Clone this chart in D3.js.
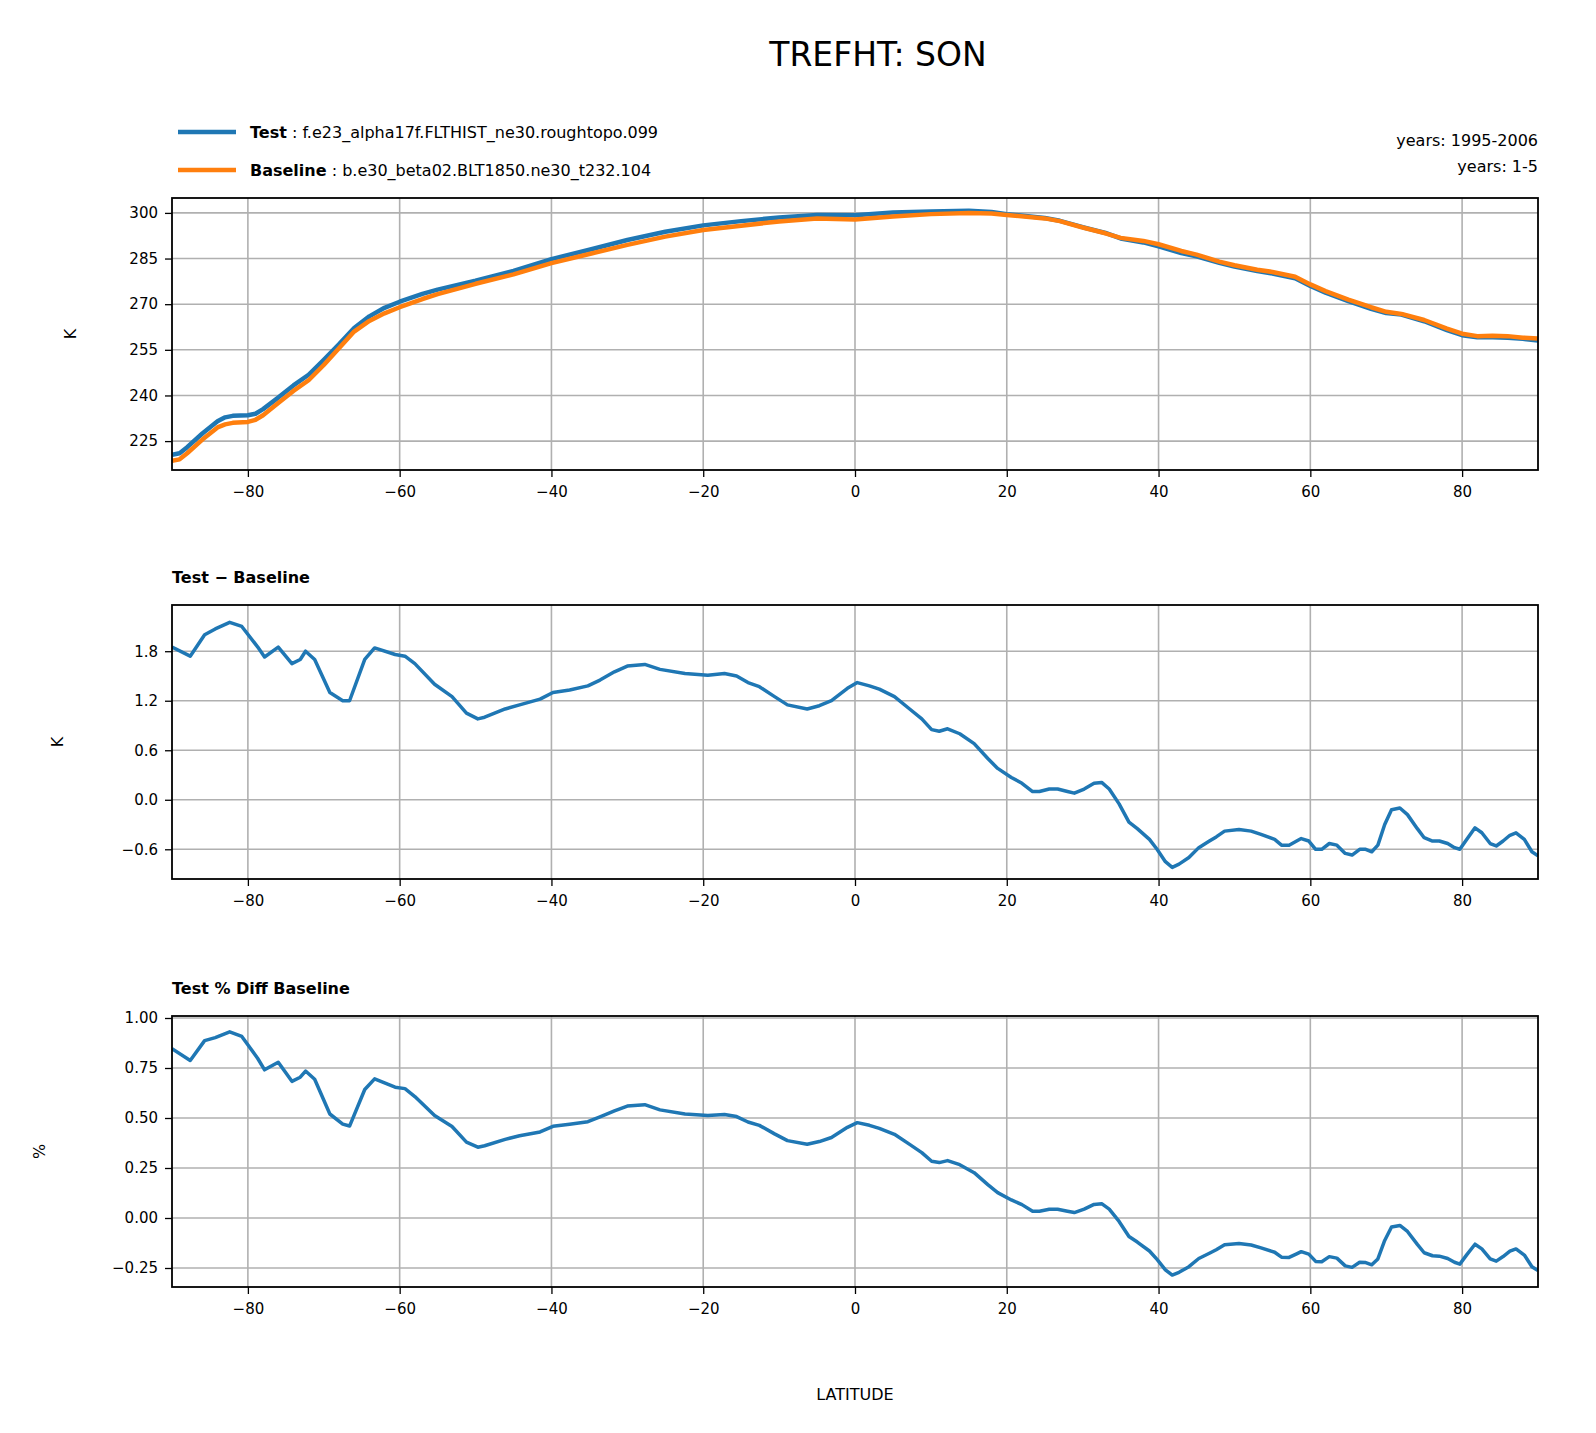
<!DOCTYPE html>
<html><head><meta charset="utf-8">
<script src="https://cdn.jsdelivr.net/npm/d3@7"></script>
<style>html,body{margin:0;padding:0;background:#fff;overflow:hidden}svg{display:block}text{font-family:"DejaVu Sans",sans-serif}</style>
</head><body><svg id="c" width="1596" height="1433"></svg>
<script>
const baseLat=[-90,-89,-88,-86,-84,-83,-82,-80,-79,-78,-76,-74,-72,-70,-68,-66,-64,-62,-60,-57,-55,-50,-45,-40,-35,-30,-25,-20,-15,-10,-5,0,5,10,15,18,20,25,27,30,33,35,38,40,43,45,48,50,53,55,58,60,62,65,68,70,72,75,78,80,82,84,86,88,90];
const baseline=[218.5,219,221,225.5,229.5,230.5,231,231.3,232,233.5,237.5,241.5,245,250,255.5,261,264.5,267,269,271.7,273.3,276.7,279.8,283.5,286.5,289.5,292.2,294.4,295.8,297.2,298.2,297.8,298.8,299.6,300,299.8,299.3,298.2,297.3,295.2,293.3,291.8,290.8,289.7,287.5,286.3,284,282.8,281.3,280.6,279,276.5,274.3,271.5,269,267.5,266.8,264.8,262,260.3,259.5,259.6,259.5,259,258.7];
const test=[220.5,221,223,227.5,231.5,232.8,233.3,233.5,234,235.5,239.3,243.3,246.8,251.7,256.8,262.2,266,268.8,270.8,273.4,274.8,277.7,280.9,284.8,287.9,291.1,293.8,295.9,297.3,298.5,299.3,299.2,300.1,300.5,300.7,300.3,299.6,298.3,297.4,295.3,293.4,291.6,290.3,289,286.8,285.7,283.6,282.4,280.9,280.1,278.5,276,273.8,271,268.5,267.1,266.6,264.4,261.5,259.8,259.1,259.1,259,258.6,258.1];
const diffLat=[-90,-87.6,-85.7,-84.3,-82.4,-80.8,-78.7,-77.8,-76,-74.2,-73.1,-72.4,-71.2,-69.2,-67.5,-66.6,-64.6,-63.3,-60.6,-59.3,-58,-55.4,-53.1,-51.2,-49.7,-48.8,-46.1,-44.2,-41.5,-39.8,-37.6,-35.2,-33.6,-31.7,-30,-27.7,-25.7,-22.4,-19.4,-17.2,-15.6,-14.1,-12.6,-10.6,-8.9,-6.3,-4.7,-3.1,-1,0.3,1.9,3.2,5.2,7.2,8.8,10.1,11.1,12.2,13.8,15.7,17.5,18.8,20.6,22,23.4,24.3,25.6,26.7,28,28.9,30.2,31.5,32.5,33.5,34.8,36.1,37.2,38.8,39.8,40.9,41.8,42.7,44,45.3,46.7,47.6,48.7,50.6,52.2,53.5,55.3,56.2,57.2,58.2,58.8,59.8,60.7,61.5,62.5,63.5,64.6,65.5,66.5,67.3,68.1,68.9,69.8,70.7,71.8,72.8,74.1,75,76.1,77,78.1,79,79.7,80.6,81.7,82.6,83.7,84.5,85.4,86.3,87.1,88.2,89.2,90];
const diff=[1.85,1.74,2.0,2.07,2.15,2.1,1.85,1.73,1.85,1.65,1.7,1.8,1.7,1.3,1.2,1.2,1.7,1.84,1.76,1.74,1.65,1.4,1.25,1.05,0.98,1.0,1.1,1.15,1.22,1.3,1.33,1.38,1.45,1.55,1.62,1.64,1.58,1.53,1.51,1.53,1.5,1.42,1.37,1.25,1.15,1.1,1.14,1.2,1.35,1.42,1.38,1.34,1.25,1.1,0.98,0.85,0.83,0.86,0.8,0.68,0.5,0.38,0.27,0.2,0.1,0.1,0.13,0.13,0.1,0.08,0.13,0.2,0.21,0.13,-0.05,-0.27,-0.35,-0.48,-0.6,-0.75,-0.82,-0.78,-0.7,-0.58,-0.5,-0.45,-0.38,-0.36,-0.38,-0.42,-0.48,-0.55,-0.55,-0.5,-0.47,-0.5,-0.6,-0.6,-0.53,-0.55,-0.65,-0.67,-0.6,-0.6,-0.63,-0.55,-0.3,-0.12,-0.1,-0.18,-0.35,-0.46,-0.5,-0.5,-0.53,-0.58,-0.6,-0.48,-0.34,-0.4,-0.53,-0.56,-0.5,-0.43,-0.4,-0.48,-0.63,-0.68];
const xTicks=[-80,-60,-40,-20,0,20,40,60,80];
const topTicks=[225,240,255,270,285,300];
const midTicks=[-0.6,0,0.6,1.2,1.8];
const botTicks=[-0.25,0,0.25,0.5,0.75,1.0];

// percent diff derived from diff and baseline (nearest baseline sample)
const pct=diff.map((d,i)=>{const la=diffLat[i];let j=d3.leastIndex(baseLat,l=>Math.abs(l-la));return 100*d/baseline[j];});

const svg=d3.select("#c");
const L=172,R=1538;
const x=d3.scaleLinear().domain([-90,90]).range([L,R]);
const minus=s=>s.replace("-","\u2212");
svg.append("text").attr("x",878).attr("y",66).attr("text-anchor","middle").attr("font-size",33).text("TREFHT: SON");

function panel(top,bot,domain,ticks,fmt,series,ylab,ylx,title){
  const y=d3.scaleLinear().domain(domain).range([bot,top]);
  const g=svg.append("g");
  const gx=g.append("g").attr("transform",`translate(0,${bot})`).call(d3.axisBottom(x).tickValues(xTicks).tickSize(7).tickPadding(9).tickFormat(d=>minus(String(d))));
  const gy=g.append("g").attr("transform",`translate(${L},0)`).call(d3.axisLeft(y).tickValues(ticks).tickSize(7).tickPadding(7).tickFormat(d=>minus(fmt(d))));
  [gx,gy].forEach(a=>{a.selectAll("text").attr("font-size",15).attr("font-family","DejaVu Sans").attr("fill","#000");a.select(".domain").remove();a.selectAll("line").attr("stroke","#000").attr("stroke-width",1.3);});
  g.append("g").selectAll("line").data(xTicks).join("line").attr("x1",d=>x(d)).attr("x2",d=>x(d)).attr("y1",top).attr("y2",bot).attr("stroke","#b0b0b0").attr("stroke-width",1.6);
  g.append("g").selectAll("line").data(ticks).join("line").attr("x1",L).attr("x2",R).attr("y1",d=>y(d)).attr("y2",d=>y(d)).attr("stroke","#b0b0b0").attr("stroke-width",1.6);
  g.append("clipPath").attr("id","cp"+top).append("rect").attr("x",L).attr("y",top).attr("width",R-L).attr("height",bot-top);
  series.forEach(s=>{
    g.append("path").attr("clip-path",`url(#cp${top})`).datum(s.lat.map((l,i)=>[l,s.v[i]])).attr("fill","none").attr("stroke",s.c).attr("stroke-width",s.w)
     .attr("stroke-linejoin","round").attr("d",d3.line().x(d=>x(d[0])).y(d=>y(d[1])));
  });
  g.append("rect").attr("x",L).attr("y",top).attr("width",R-L).attr("height",bot-top).attr("fill","none").attr("stroke","#000").attr("stroke-width",1.8);
  g.append("text").attr("transform",`translate(${ylx},${(top+bot)/2}) rotate(-90)`).attr("text-anchor","middle").attr("font-size",16).text(ylab);
  if(title) g.append("text").attr("x",L).attr("y",top-22).attr("font-size",16).attr("font-weight","bold").text(title);
}
panel(198,470,[215.5,304.9],topTicks,d=>String(d),[{lat:baseLat,v:test,c:"#1f77b4",w:4.5},{lat:baseLat,v:baseline,c:"#ff7f0e",w:4.5}],"K",76,null);
panel(605,879,[-0.96,2.36],midTicks,d3.format(".1f"),[{lat:diffLat,v:diff,c:"#1f77b4",w:3.5}],"K",63,"Test \u2212 Baseline");
panel(1016,1287,[-0.345,1.01],botTicks,d3.format(".2f"),[{lat:diffLat,v:pct,c:"#1f77b4",w:3.5}],"%",45,"Test % Diff Baseline");
svg.append("text").attr("x",855).attr("y",1400).attr("text-anchor","middle").attr("font-size",16).text("LATITUDE");

const leg=[["Test","f.e23_alpha17f.FLTHIST_ne30.roughtopo.099","#1f77b4",132],["Baseline","b.e30_beta02.BLT1850.ne30_t232.104","#ff7f0e",170]];
leg.forEach(([b,t,c,yy])=>{
  svg.append("line").attr("x1",178).attr("x2",236).attr("y1",yy).attr("y2",yy).attr("stroke",c).attr("stroke-width",4.5);
  const tx=svg.append("text").attr("x",250).attr("y",yy+6).attr("font-size",16);
  tx.append("tspan").attr("font-weight","bold").text(b);
  tx.append("tspan").text(" : "+t);
});
svg.append("text").attr("x",1538).attr("y",146).attr("text-anchor","end").attr("font-size",16).text("years: 1995-2006");
svg.append("text").attr("x",1538).attr("y",172).attr("text-anchor","end").attr("font-size",16).text("years: 1-5");
</script></body></html>
